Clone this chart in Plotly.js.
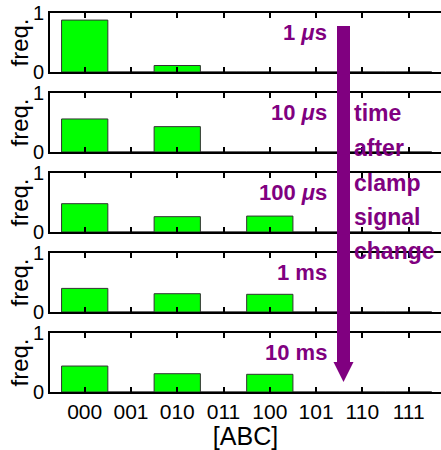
<!DOCTYPE html>
<html>
<head>
<meta charset="utf-8">
<script src="https://cdn.plot.ly/plotly-3.0.1.min.js"></script>
<style>html,body{margin:0;padding:0;background:#fff;}#chart{width:441px;height:450px;}</style>
</head>
<body>
<div id="chart"></div>
<script>
// ---- data ----
var categories = ["000", "001", "010", "011", "100", "101", "110", "111"];
var times = ["1 <i>\u03bc</i>s", "10 <i>\u03bc</i>s", "100 <i>\u03bc</i>s", "1 ms", "10 ms"];
var freq1us   = [0.88, 0, 0.11, 0, 0,    0, 0, 0];
var freq10us  = [0.56, 0, 0.43, 0, 0,    0, 0, 0];
var freq100us = [0.48, 0, 0.26, 0, 0.27, 0, 0, 0];
var freq1ms   = [0.40, 0, 0.31, 0, 0.30, 0, 0, 0];
var freq10ms  = [0.44, 0, 0.31, 0, 0.30, 0, 0, 0];
var yTickVals = [0, 1];
var yTickText = ["0", "1"];
var sideText = ["time", "after", "clamp", "signal", "change"];
var series = [freq1us, freq10us, freq100us, freq1ms, freq10ms];

// ---- layout helpers ----
var W = 441, H = 450, ML = 50, MR = 0, MT = 13, MB = 58;
var PW = W - ML - MR, PH = H - MT - MB;
function px2x(px) { return (px - ML) / PW; }
function py2y(py) { return (H - MB - py) / PH; }
var purple = "#800080";
var fontFam = "Arial, 'Liberation Sans', Helvetica, sans-serif";

var data = [];
var layout = {
  width: W, height: H,
  margin: {l: ML, r: MR, t: MT, b: MB, pad: 0},
  paper_bgcolor: "#fff", plot_bgcolor: "#fff",
  showlegend: false,
  bargap: 0,
  font: {family: fontFam, color: "#000"},
  annotations: [],
  shapes: []
};

for (var k = 0; k < 5; k++) {
  var n = k + 1;
  var xa = "x" + (n === 1 ? "" : n), ya = "y" + (n === 1 ? "" : n);
  var xk = "xaxis" + (n === 1 ? "" : n), yk = "yaxis" + (n === 1 ? "" : n);
  data.push({
    type: "bar", x: categories, y: series[k], xaxis: xa, yaxis: ya,
    marker: {color: "#00ff00", line: {color: "#333333", width: 1}},
    hoverinfo: "skip"
  });
  var topPx = 13 + 80 * k, botPx = 72 + 80 * k;
  layout[yk] = {
    domain: [py2y(botPx), Math.min(1, py2y(topPx))],
    anchor: xa, range: [0, 1], fixedrange: true,
    tickmode: "array", tickvals: yTickVals, ticktext: yTickText,
    ticks: "", showgrid: false, zeroline: false,
    showline: true, linecolor: "#000", linewidth: 2,
    tickfont: {size: 20, family: fontFam, color: "#000"}
  };
  layout[xk] = {
    domain: [0, 1], anchor: ya, type: "category",
    categoryorder: "array", categoryarray: categories,
    range: [-0.75, 7.7], fixedrange: true,
    showline: true, mirror: "ticks", linecolor: "#000", linewidth: 2,
    ticks: "inside", ticklen: 5, tickwidth: 2, tickcolor: "#000",
    showgrid: false, zeroline: false,
    showticklabels: (k === 4),
    tickfont: {size: 21, family: fontFam, color: "#000"}
  };
  if (k === 4) {
    layout[xk].title = {text: "[ABC]", font: {size: 25, family: fontFam, color: "#000"}, standoff: 4};
  }
  // y label
  layout.annotations.push({
    xref: "paper", yref: "paper", x: px2x(19), y: py2y((topPx + botPx) / 2),
    text: "freq.", textangle: -90, showarrow: false,
    xanchor: "center", yanchor: "middle",
    font: {size: 24, family: fontFam, color: "#000"}
  });
  // time label
  layout.annotations.push({
    xref: "paper", yref: "paper", x: px2x(329), y: py2y(topPx + 19),
    text: "<b>" + times[k] + "</b>", showarrow: false,
    xanchor: "right", yanchor: "middle",
    font: {size: 22, family: fontFam, color: purple}
  });
}

var sideY = [113, 148, 183, 217, 251];
for (var i = 0; i < sideText.length; i++) {
  layout.annotations.push({
    xref: "paper", yref: "paper", x: px2x(352), y: py2y(sideY[i]),
    text: "<b>" + sideText[i] + "</b>", showarrow: false,
    xanchor: "left", yanchor: "middle",
    font: {size: 23, family: fontFam, color: purple}
  });
}

// arrow (shaft + head)
layout.shapes.push({
  type: "rect", xref: "paper", yref: "paper", layer: "above",
  x0: px2x(337), x1: px2x(350), y0: py2y(363), y1: py2y(26),
  fillcolor: purple, line: {width: 0}
});
layout.shapes.push({
  type: "path", xref: "paper", yref: "paper", layer: "above",
  path: "M " + px2x(333.5) + " " + py2y(362) + " L " + px2x(353.5) + " " + py2y(362) +
        " L " + px2x(343.5) + " " + py2y(382) + " Z",
  fillcolor: purple, line: {width: 0}
});

Plotly.newPlot("chart", data, layout, {staticPlot: true, displayModeBar: false});
</script>
</body>
</html>
